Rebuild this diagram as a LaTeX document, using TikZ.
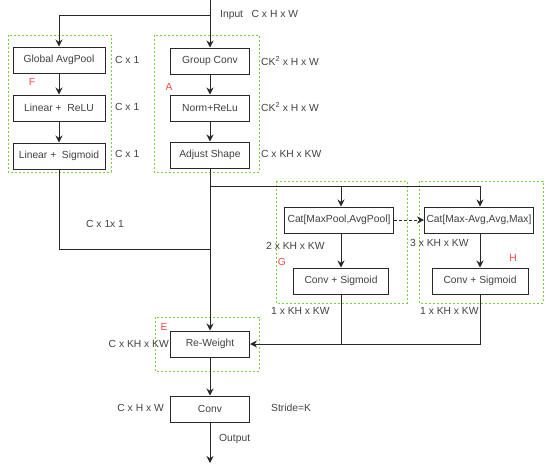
\documentclass[tikz,border=0pt]{standalone}
\usepackage{fontspec}
\setmainfont{Liberation Sans}
\usepackage{xcolor}
\usepackage{tikz}
\usetikzlibrary{arrows.meta, positioning, calc}
\definecolor{VerdeGrupo}{RGB}{120,210,60}
\definecolor{RojoEtiq}  {RGB}{245,70,70}
\definecolor{GrisTexto} {RGB}{65,65,65}
\definecolor{GrisLinea} {RGB}{40,40,40}

\begin{document}
\begin{tikzpicture}[x=1pt,y=-1pt,font=\fontsize{10.3}{12}\selectfont,text=GrisTexto,
    caja/.style={draw=GrisLinea,line width=1pt,fill=white,minimum height=26pt,inner sep=2pt},
    grupo/.style={draw=VerdeGrupo,line width=0.9pt,dash pattern=on 2pt off 2pt},
    marca/.style={text=RojoEtiq},
    dim/.style={anchor=west,inner sep=0pt},
    flecha/.style={-{Stealth[length=7pt,width=7pt]},draw=GrisLinea,line width=1pt},
    linea/.style={draw=GrisLinea,line width=1pt}]
      \useasboundingbox (0,0) rectangle (550,472);
      % dashed groups
      \draw[grupo] (8,35) rectangle (111,172);
      \draw[grupo] (154,35) rectangle (259,172);
      \draw[grupo] (276,181) rectangle (407,303);
      \draw[grupo] (419,181) rectangle (543,303);
      \draw[grupo] (155,317) rectangle (259,371);
      \node[marca] (labF) at (32,82) {F};
      \node[marca] (labA) at (169,87) {A};
      \node[marca] (labG) at (282,262) {G};
      \node[marca] (labH) at (513,258) {H};
      \node[marca] (labE) at (164,327) {E};
      % boxes
      \node[caja,minimum width=92pt] (gap) at (59,60) {Global AvgPool};
      \node[caja,minimum width=92pt,below=21pt of gap] (lrelu) {Linear +\ \ ReLU};
      \node[caja,minimum width=92pt,below=21pt of lrelu] (lsig) {Linear +\ \ Sigmoid};
      \node[caja,minimum width=79pt] (gconv) at (210,61) {Group Conv};
      \node[caja,minimum width=79pt,below=20pt of gconv] (norm) {Norm+ReLu};
      \node[caja,minimum width=79pt,below=20pt of norm] (adjust) {Adjust Shape};
      \node[caja,minimum width=109pt] (cat1) at (339,220) {Cat[MaxPool,AvgPool]};
      \node[caja,minimum width=109pt] (cat2) at (479,220) {Cat[Max-Avg,Avg,Max]};
      \node[caja,minimum width=95pt] (csig1) at (341,281) {Conv + Sigmoid};
      \node[caja,minimum width=96pt] (csig2) at (480,281) {Conv + Sigmoid};
      \node[caja,minimum width=79pt] (rew) at (210,344) {Re-Weight};
      \node[caja,minimum width=79pt,below=38pt of rew] (conv) {Conv};
      % sizes
      \node[dim] (dimIn) at (220,15) {Input\ \ \ C x H x W};
      \node[dim] (dimF1) at (115,60) {C x 1};
      \node[dim] (dimF2) at (115,107) {C x 1};
      \node[dim] (dimF3) at (115,154) {C x 1};
      \node[dim] (dimA1) at (261,61) {CK\textsuperscript{2} x H x W};
      \node[dim] (dimA2) at (261,107) {CK\textsuperscript{2} x H x W};
      \node[dim] (dimA3) at (261,154) {C x KH x KW};
      \node[dim] (dimFo) at (86,224) {C x 1x 1};
      \node[dim] (dimG1) at (266,246) {2 x KH x KW};
      \node[dim] (dimH1) at (410,243) {3 x KH x KW};
      \node[dim] (dimG2) at (271,311) {1 x KH x KW};
      \node[dim] (dimH2) at (420,311) {1 x KH x KW};
      \node[dim,anchor=east] (dimE) at (169,344) {C x KH x KW};
      \node[dim,anchor=east] (dimC) at (164,408) {C x H x W};
      \node[dim] (stride) at (271,408) {Stride=K};
      \node[dim] (outlab) at (219,439) {Output};
      % connectors
      \coordinate (top) at (210,0);
      \coordinate (split) at (210,15);
      \coordinate (join) at (210,249);
      \coordinate (branch) at (210,186);
      \coordinate (out) at (210,463);
      \draw[flecha] (top) -- (gconv);
      \draw[flecha] (split) -| (gap);
      \draw[flecha] (gap) -- (lrelu);
      \draw[flecha] (lrelu) -- (lsig);
      \draw[flecha] (gconv) -- (norm);
      \draw[flecha] (norm) -- (adjust);
      \draw[flecha] (adjust) -- (rew);
      \draw[linea] (lsig) |- (join);
      \draw[flecha] (branch) -| (cat1.north -| csig1);
      \draw[flecha] (branch) -| (cat2.north -| csig2);
      \draw[flecha,dash pattern=on 3pt off 2pt] (cat1) -- (cat2);
      \draw[flecha] (cat1.south -| csig1) -- (csig1);
      \draw[flecha] (cat2.south -| csig2) -- (csig2);
      \draw[linea] (csig1) -- (csig1 |- rew);
      \draw[flecha] (csig2) |- (rew);
      \draw[flecha] (rew) -- (conv);
      \draw[flecha] (conv) -- (out);
    \end{tikzpicture}
\end{document}
